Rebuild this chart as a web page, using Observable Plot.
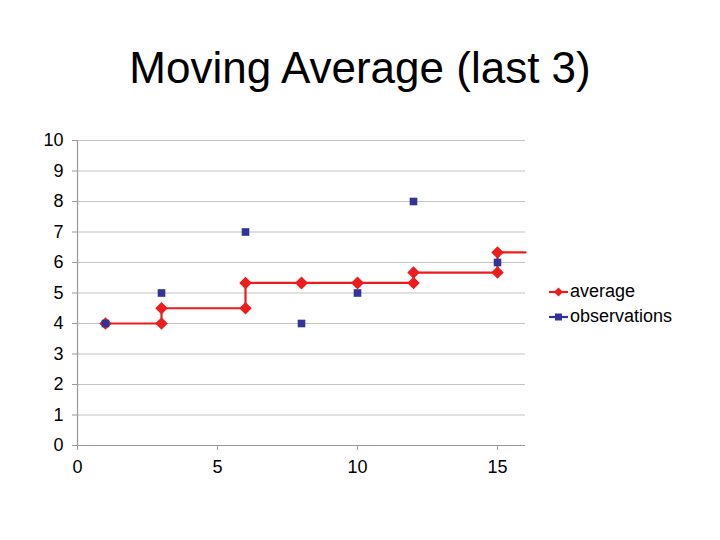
<!DOCTYPE html>
<html>
<head>
<meta charset="utf-8">
<script src="https://cdn.jsdelivr.net/npm/d3@7"></script>
<script src="https://cdn.jsdelivr.net/npm/@observablehq/plot@0.6"></script>
<style>
  html, body { margin: 0; padding: 0; background: #fff; }
  body { width: 720px; height: 540px; position: relative; overflow: hidden; font-family: "Liberation Sans", Arial, sans-serif; }
  #title { position: absolute; left: 0; top: 43px; width: 720px; text-align: center; font-size: 44px; line-height: 50px; color: #000; }
  #chart { position: absolute; left: 0; top: 110px; }
  #legend { position: absolute; left: 548px; top: 279px; font-size: 18px; color: #000; }
  #legend .item { display: flex; align-items: center; height: 25px; }
  #legend svg { margin-right: 2px; }
</style>
</head>
<body>
<div id="title">Moving Average (last 3)</div>
<div id="chart"></div>
<div id="legend"></div>
<script>
// Data
const obsX = [1, 3, 6, 8, 10, 12, 15];
const obsY = [4, 5, 7, 4, 5, 8, 6];
const avgY = [4, 4.5, 5.33, 5.33, 5.33, 5.67, 6.33];
const xTicks = [0, 5, 10, 15];
const yTicks = [0, 1, 2, 3, 4, 5, 6, 7, 8, 9, 10];
const xDomain = [0, 16];
const yDomain = [0, 10];
const seriesNames = ["average", "observations"];
const seriesColors = ["#ee1c1c", "#333399"];

const observations = obsX.map((x, i) => ({x, y: obsY[i]}));
// step vertices of the average series (each new value starts at the observation's x)
const steps = [];
obsX.forEach((x, i) => {
  if (i > 0) steps.push({x, y: avgY[i - 1]});
  steps.push({x, y: avgY[i]});
});
const avgLine = steps.concat([{x: xDomain[1], y: avgY[avgY.length - 1]}]);

const fontFamily = '"Liberation Sans", Arial, sans-serif';

const chart = Plot.plot({
  width: 720,
  height: 400,
  marginLeft: 77,
  marginRight: 195,
  marginTop: 30,
  marginBottom: 65,
  style: {fontFamily, fontSize: "18px", color: "#000", background: "transparent"},
  x: {domain: xDomain, ticks: xTicks, label: null},
  y: {domain: yDomain, ticks: yTicks, label: null},
  marks: [
    Plot.gridY(yTicks, {stroke: "#c4c4c4", strokeOpacity: 1, strokeWidth: 1.2}),
    Plot.ruleX([xDomain[0]], {stroke: "#9a9a9a", strokeWidth: 1.2}),
    Plot.ruleY([yDomain[0]], {stroke: "#9a9a9a", strokeWidth: 1.2}),
    Plot.axisY({ticks: yTicks, tickSize: 5, tickPadding: 9, stroke: "#9a9a9a", fontSize: 18, fill: "#000", label: null}),
    Plot.axisX({ticks: xTicks, tickSize: 5, tickPadding: 10, stroke: "#9a9a9a", fontSize: 18, fill: "#000", label: null}),
    Plot.line(avgLine, {x: "x", y: "y", stroke: seriesColors[0], strokeWidth: 2.2}),
    Plot.dot(steps, {x: "x", y: "y", symbol: "diamond2", r: 5.6, fill: seriesColors[0], stroke: "none"}),
    Plot.dot(observations, {x: "x", y: "y", symbol: "square", r: 4.3, fill: seriesColors[1], stroke: "none"})
  ]
});
document.getElementById("chart").appendChild(chart);

// Legend
const legend = d3.select("#legend");
seriesNames.forEach((name, i) => {
  const item = legend.append("div").attr("class", "item");
  const svg = item.append("svg").attr("width", 20).attr("height", 14);
  svg.append("line").attr("x1", 1).attr("x2", 20).attr("y1", 7).attr("y2", 7)
    .attr("stroke", seriesColors[i]).attr("stroke-width", 2.2);
  if (i === 0) {
    svg.append("path").attr("d", "M10.5,2.5L15,7L10.5,11.5L6,7Z").attr("fill", seriesColors[i]);
  } else {
    svg.append("rect").attr("x", 7).attr("y", 3.5).attr("width", 7).attr("height", 7).attr("fill", seriesColors[i]);
  }
  item.append("span").text(name);
});
</script>
</body>
</html>
